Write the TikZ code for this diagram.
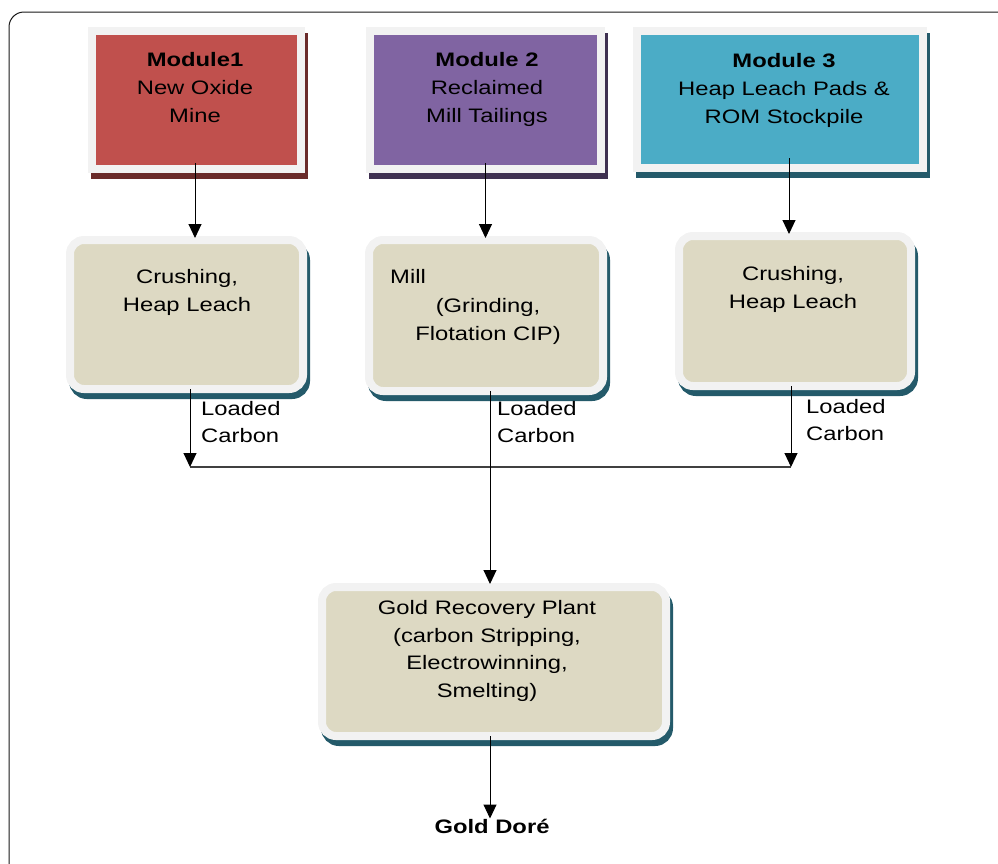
\documentclass[tikz,border=0pt]{standalone}
\usepackage{fontspec}
\setmainfont{Liberation Sans}[FakeStretch=1.22]
\usetikzlibrary{arrows.meta}
\definecolor{framegray}{HTML}{F2F2F2}
\definecolor{modred}{HTML}{C0504D}
\definecolor{modredsh}{HTML}{6A2B2A}
\definecolor{modpurple}{HTML}{8064A2}
\definecolor{modpurplesh}{HTML}{3F3151}
\definecolor{modteal}{HTML}{4BACC6}
\definecolor{tealsh}{HTML}{245A6A}
\definecolor{beige}{HTML}{DDD9C3}
\definecolor{hlgray}{HTML}{404040}
\begin{document}
\begin{tikzpicture}[x=1pt,y=-1pt,
  shadowed/.style={preaction={draw=#1, fill=#1, line width=8pt, transform canvas={xshift=3pt,yshift=-6pt}}},
  modbox/.style={draw=framegray, line width=8pt, inner sep=0pt, outer sep=0pt},
  procbox/.style={modbox, fill=beige, rounded corners=14pt, shadowed=tealsh},
  txt/.style={font=\fontsize{19.5}{28}\selectfont, align=center, inner sep=0pt, anchor=north},
  lbl/.style={font=\fontsize{19.5}{27}\selectfont, align=left, inner sep=0pt, anchor=north west},
  arr/.style={-{Triangle[width=13pt,length=14pt]}, line width=1pt, black},
  hl/.style={line width=1.2pt, hlgray},
]
\useasboundingbox (0,0) rectangle (998,863);
\begin{scope}
  \clip (0,0) rectangle (998,863);
  \draw[line width=1pt, black!90, rounded corners=15pt] (9,12) rectangle (1030,900);
\end{scope}

% module boxes
\node[modbox, fill=modred, shadowed=modredsh, minimum width=209pt, minimum height=138pt] (m1) at (196.5,100) {};
\node[modbox, fill=modpurple, shadowed=modpurplesh, minimum width=231pt, minimum height=138pt] (m2) at (485.5,100) {};
\node[modbox, fill=modteal, shadowed=tealsh, minimum width=286pt, minimum height=137pt] (m3) at (780,99.5) {};

\node[txt] (m1t) at (195,52) {\textbf{Module1}\\New Oxide\\Mine};
\node[txt] (m2t) at (487,52) {\textbf{Module 2}\\Reclaimed\\Mill Tailings};
\node[txt] (m3t) at (784,53) {\textbf{Module 3}\\Heap Leach Pads \&\\ROM Stockpile};

% process boxes
\node[procbox, minimum width=233pt, minimum height=149pt] (c1) at (186.5,314.5) {};
\node[procbox, minimum width=234pt, minimum height=151pt] (c2) at (486,315.5) {};
\node[procbox, minimum width=232pt, minimum height=150pt] (c3) at (795,311) {};
\node[procbox, minimum width=344pt, minimum height=149pt] (g) at (494,661.5) {};

\node[txt] (c1t) at (187,269) {Crushing,\\Heap Leach};
\node[txt, anchor=north west] (c2a) at (390,269) {Mill};
\node[txt] (c2t) at (488,298) {(Grinding,\\Flotation CIP)};
\node[txt] (c3t) at (793,266) {Crushing,\\Heap Leach};
\node[txt, font=\fontsize{19.5}{27.7}\selectfont] (gt) at (487,600) {Gold Recovery Plant\\(carbon Stripping,\\Electrowinning,\\Smelting)};

\node[lbl] (l1) at (201,401) {Loaded\\Carbon};
\node[lbl] (l2) at (497,401) {Loaded\\Carbon};
\node[lbl] (l3) at (806,399) {Loaded\\Carbon};

\node[font=\fontsize{19.5}{24}\selectfont\bfseries, inner sep=0pt, anchor=base] (dore) at (492,833) {Gold Doré};

% connectors
\coordinate (jl) at (190,467);
\coordinate (jr) at (791,467);

\draw[arr, shorten >=2pt] ([xshift=-1.5pt,yshift=6pt]m1.south) -- ([xshift=-1.5pt]m1.south |- c1.north);
\draw[arr, shorten >=2pt] ([yshift=6pt]m2.south) -- (m2.south |- c2.north);
\draw[arr, shorten >=2pt] ([xshift=9pt,yshift=10pt]m3.south) -- ([xshift=9pt]m3.south |- c3.north);

\draw[hl] (jl) -- (jr);
\draw[arr] (c1.south -| jl) -- (jl);
\draw[arr] (c3.south -| jr) -- (jr);
\draw[arr, shorten >=3pt] ([xshift=4pt]c2.south) -- ([xshift=4pt]c2.south |- g.north);
\draw[arr] ([xshift=-4pt]g.south) -- ([xshift=-4pt]g.south |- dore.north);
\end{tikzpicture}
\end{document}
